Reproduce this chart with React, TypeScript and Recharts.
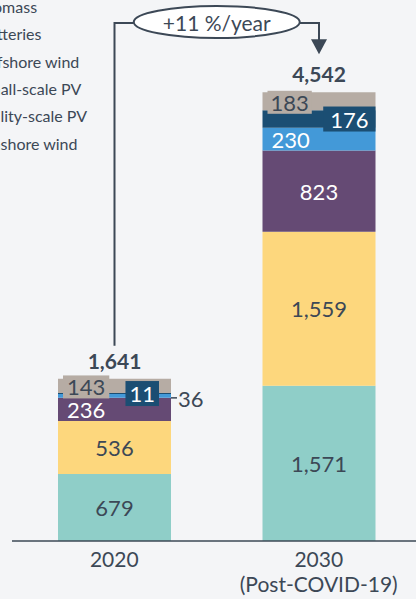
import React from "react";
import { BarChart, Bar, XAxis, YAxis, LabelList } from "recharts";

// ---- data ----
const categories = ["2020", "2030"];
const categorySubLabels = ["", "(Post-COVID-19)"];
const onshoreWind = [679, 1571];
const utilityScalePV = [536, 1559];
const smallScalePV = [236, 823];
const offshoreWind = [36, 230];
const batteries = [11, 176];
const biomass = [143, 183];
const growthLabel = "+11 %/year";
const legendLabels = [
  "Biomass",
  "Batteries",
  "Offshore wind",
  "Small-scale PV",
  "Utility-scale PV",
  "Onshore wind",
];

// ---- layout / style ----
const W = 421;
const H = 599;
const M = { top: 47, right: 0, left: 12, bottom: 0 };
const BAND = (W - M.left - M.right) / categories.length;
const DARK = "#3c4856";
const BG = "#f4f5f7";
const FONT = "Lato, 'Open Sans', sans-serif";
const VAL_SIZE = 22;

type Place = "center" | "left" | "outside" | "boxRight" | "boxLeft";

const series: {
  key: string;
  name: string;
  values: number[];
  color: string;
  text: string;
  place: Place[];
  box?: string;
  inset?: number[];
  pad?: number[];
}[] = [
  { key: "onshore", name: legendLabels[5], values: onshoreWind, color: "#8fcec8", text: DARK, place: ["center", "center"] },
  { key: "utility", name: legendLabels[4], values: utilityScalePV, color: "#fdd77d", text: DARK, place: ["center", "center"] },
  { key: "small", name: legendLabels[3], values: smallScalePV, color: "#654a74", text: "#ffffff", place: ["left", "center"] },
  { key: "offshore", name: legendLabels[2], values: offshoreWind, color: "#4399d8", text: "#ffffff", place: ["outside", "left"] },
  { key: "batteries", name: legendLabels[1], values: batteries, color: "#1b4e73", text: "#ffffff", place: ["boxRight", "boxRight"], box: "#1b4e73", inset: [12, 0], pad: [8, 14] },
  { key: "biomass", name: legendLabels[0], values: biomass, color: "#b6aca4", text: DARK, place: ["boxLeft", "boxLeft"], box: "#b6aca4", inset: [5, 5], pad: [8, 6] },
];

const data = categories.map((c, i) => {
  const row: Record<string, number | string> = { category: c };
  series.forEach((s) => (row[s.key] = s.values[i]));
  return row;
});
const totals = categories.map((_, i) => series.reduce((a, s) => a + s.values[i], 0));

const fmt = (v: number) => v.toLocaleString("en-US");
const textW = (t: string, size: number) =>
  t.split("").reduce((a, ch) => a + (ch === "," ? 0.26 : 0.58) * size, 0);

const makeLabel = (s: (typeof series)[number], isTop: boolean) => (props: any) => {
  const x = Number(props.x);
  const y = Number(props.y);
  const width = Number(props.width);
  const height = Number(props.height);
  const index = Number(props.index);
  const value = Number(props.value);
  const place = s.place[index];
  const cx = x + width / 2;
  const cy = y + height / 2;
  const t = fmt(value);
  const tw = textW(t, VAL_SIZE);
  const pad = s.pad ? s.pad[index] : 6;
  const common = {
    fontFamily: FONT,
    fontSize: VAL_SIZE,
    dominantBaseline: "central" as const,
  };
  const parts: React.ReactNode[] = [];
  if (place === "center") {
    parts.push(
      <text key="v" x={cx} y={cy} textAnchor="middle" fill={s.text} {...common}>{t}</text>
    );
  } else if (place === "left") {
    parts.push(
      <text key="v" x={x + 9} y={cy} textAnchor="start" fill={s.text} {...common}>{t}</text>
    );
  } else if (place === "outside") {
    parts.push(
      <line key="l" x1={x + width} x2={x + width + 6} y1={cy + 2} y2={cy + 2} stroke={DARK} strokeWidth={1.5} />,
      <text key="v" x={x + width + 7} y={cy + 3} textAnchor="start" fill={DARK} {...common}>{t}</text>
    );
  } else if (place === "boxRight") {
    const bw = tw + pad;
    const bh = 25;
    const bx = x + width - (s.inset ? s.inset[index] : 0) - bw;
    parts.push(
      <rect key="b" x={bx} y={cy - bh / 2} width={bw} height={bh} fill={s.box} />,
      <text key="v" x={bx + bw / 2} y={cy} textAnchor="middle" fill={s.text} {...common}>{t}</text>
    );
  } else if (place === "boxLeft") {
    const bw = tw + pad;
    const bh = 23;
    const bx = x + (s.inset ? s.inset[index] : 0);
    parts.push(
      <rect key="b" x={bx} y={cy - bh / 2 + 1} width={bw} height={bh} fill={s.box} />,
      <text key="v" x={bx + bw / 2} y={cy + 1} textAnchor="middle" fill={s.text} {...common}>{t}</text>
    );
  }
  if (isTop) {
    parts.push(
      <text key="tot" x={cx} y={y - 10} textAnchor="middle" fill={DARK} fontFamily={FONT} fontSize={21} fontWeight={700}>
        {fmt(totals[index])}
      </text>
    );
    const lineY = 23;
    const rx = 83;
    const ry = 16;
    if (index === 0) {
      const midX = cx + BAND / 2;
      parts.push(
        <path key="a0" d={`M${cx},${y - 33} V${lineY} H${midX - rx}`} fill="none" stroke={DARK} strokeWidth={2} />,
        <ellipse key="e" cx={midX} cy={lineY - 1} rx={rx} ry={ry} fill="#ffffff" stroke={DARK} strokeWidth={2} />,
        <text key="g" x={midX} y={lineY - 1} textAnchor="middle" dominantBaseline="central" fill={DARK} fontFamily={FONT} fontSize={21}>
          {growthLabel}
        </text>
      );
    } else {
      const midX = cx - BAND / 2;
      const tip = y - 38;
      parts.push(
        <path key="a1" d={`M${midX + rx},${lineY} H${cx} V${tip - 12}`} fill="none" stroke={DARK} strokeWidth={2} />,
        <path key="ah" d={`M${cx - 8},${tip - 15} L${cx + 8},${tip - 15} L${cx},${tip} Z`} fill={DARK} />
      );
    }
  }
  return <g>{parts}</g>;
};

const Tick = (props: any) => {
  const { x, y, payload } = props;
  const i = categories.indexOf(payload.value);
  return (
    <g>
      <text x={x} y={y + 18} textAnchor="middle" fill={DARK} fontFamily={FONT} fontSize={21}>
        {payload.value}
      </text>
      {categorySubLabels[i] ? (
        <text x={x} y={y + 43} textAnchor="middle" fill={DARK} fontFamily={FONT} fontSize={21}>
          {categorySubLabels[i]}
        </text>
      ) : null}
    </g>
  );
};

export default function App() {
  return (
    <div
      style={{
        position: "absolute",
        left: 0,
        top: 0,
        width: 416,
        height: 599,
        overflow: "hidden",
        background: BG,
      }}
    >
      <BarChart width={W} height={H} data={data} margin={M} barSize={113}>
        <XAxis
          dataKey="category"
          axisLine={{ stroke: DARK, strokeWidth: 1.5 }}
          tickLine={false}
          tick={<Tick />}
          height={58}
          interval={0}
        />
        <YAxis hide domain={[0, 5000]} />
        {series.map((s, si) => (
          <Bar key={s.key} dataKey={s.key} name={s.name} stackId="s" fill={s.color} isAnimationActive={false}>
            <LabelList dataKey={s.key} content={makeLabel(s, si === series.length - 1)} />
          </Bar>
        ))}
      </BarChart>
      <svg width={160} height={160} style={{ position: "absolute", left: 0, top: 0 }}>
        {legendLabels.map((l, i) => (
          <text key={l} x={-21} y={13 + i * 27.3} fill={DARK} fontFamily={FONT} fontSize={16}>
            {l}
          </text>
        ))}
      </svg>
    </div>
  );
}
